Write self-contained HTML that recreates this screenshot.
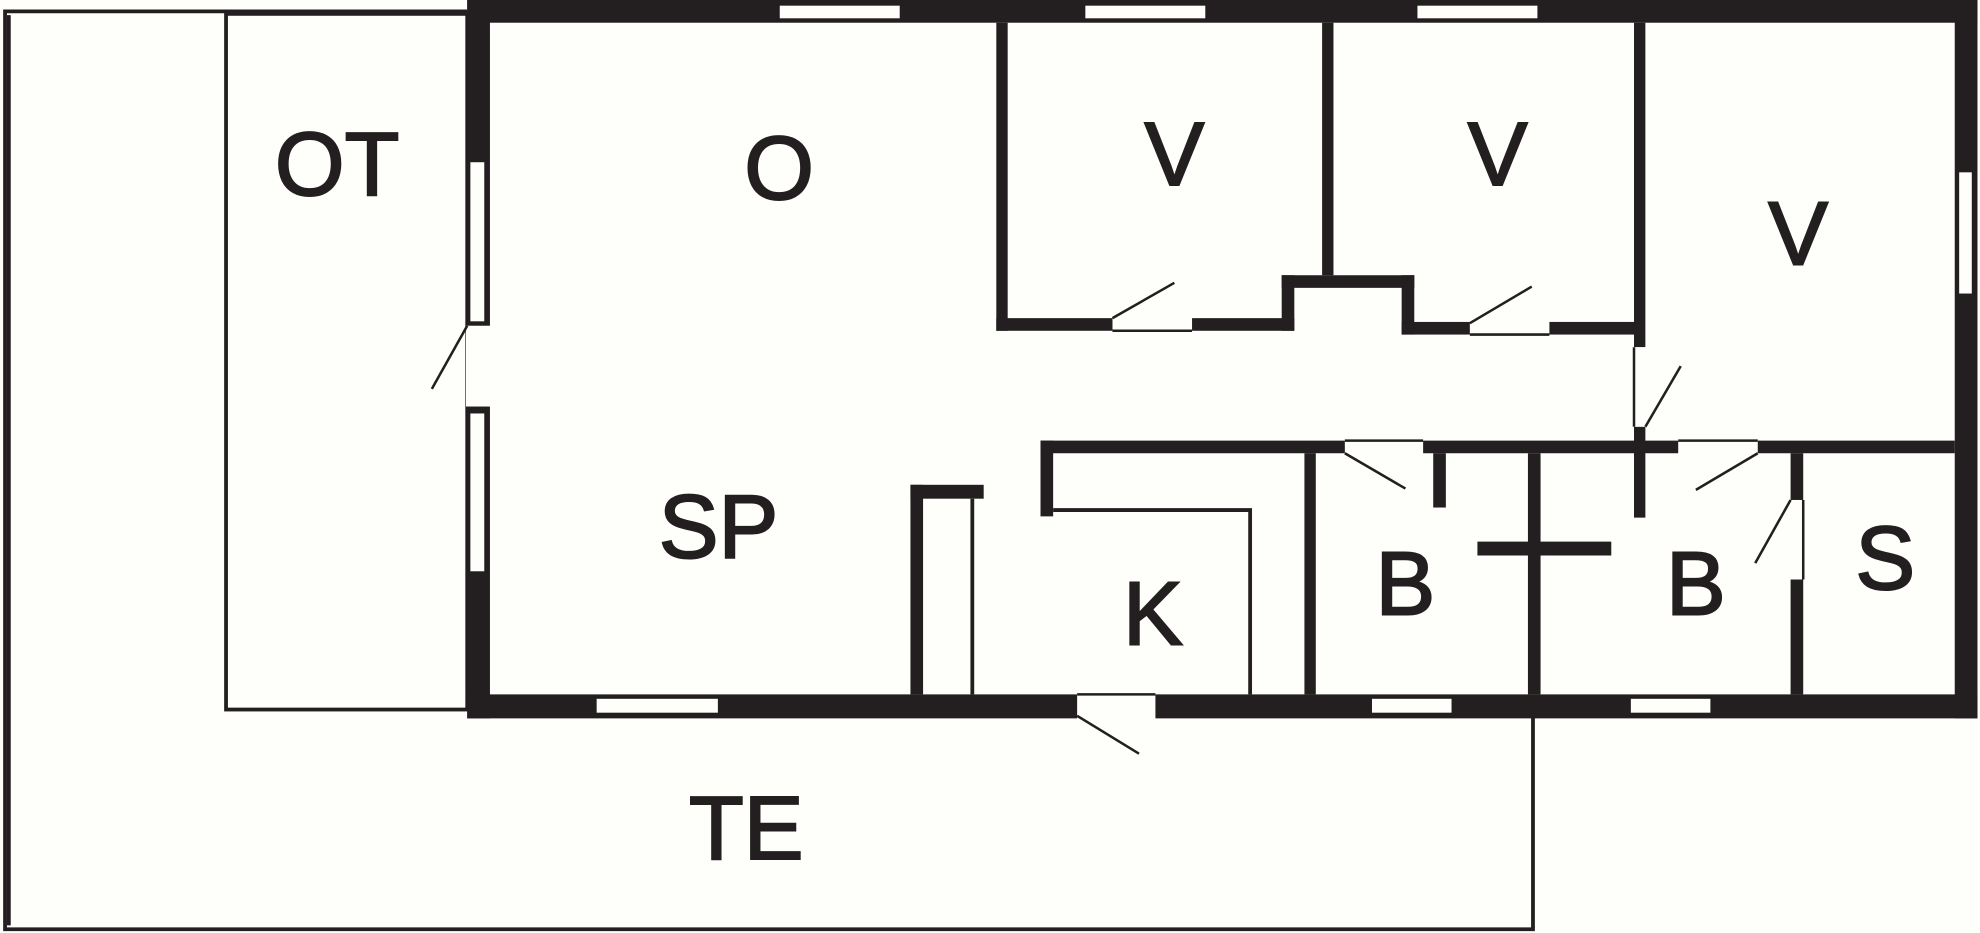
<!DOCTYPE html>
<html><head><meta charset="utf-8"><style>html,body{margin:0;padding:0;background:#fefefa}svg{display:block}</style></head>
<body>
<svg width="1980" height="933" viewBox="0 0 1568 739" preserveAspectRatio="none" xmlns="http://www.w3.org/2000/svg">
<rect width="1568" height="739" fill="#fefefa"/>
<g fill="none" stroke="#231f20" stroke-width="3">
<path d="M370 9 H4 V736 H1214 V566"/>
<path d="M7 12 V733"/>
<rect x="179" y="11" width="191" height="551"/>
<path d="M834 404 H990 V550"/>
<path d="M770 395 V550"/>
</g>
<g fill="#231f20">
<rect x="370" y="0" width="1196" height="18"/>
<rect x="370" y="0" width="18" height="569"/>
<rect x="370" y="550" width="1196" height="19"/>
<rect x="1548" y="0" width="18" height="569"/>
<rect x="789" y="18" width="9" height="244"/>
<rect x="789" y="252" width="236" height="10"/>
<rect x="1015" y="218" width="10" height="44"/>
<rect x="1015" y="218" width="105" height="10"/>
<rect x="1110" y="218" width="10" height="47"/>
<rect x="1110" y="255" width="190" height="10"/>
<rect x="1047" y="18" width="9" height="200"/>
<rect x="1294" y="18" width="9" height="257"/>
<rect x="1294" y="338" width="9" height="72"/>
<rect x="824" y="349" width="724" height="10"/>
<rect x="824" y="349" width="10" height="60"/>
<rect x="1033" y="359" width="9" height="191"/>
<rect x="1135" y="359" width="10" height="43"/>
<rect x="1210" y="359" width="10" height="191"/>
<rect x="1170" y="429" width="106" height="11"/>
<rect x="1418" y="359" width="10" height="191"/>
<rect x="721" y="384" width="10" height="166"/>
<rect x="721" y="384" width="58" height="11"/>
</g>
<g fill="#fefefa" stroke="#231f20" stroke-width="1">
<rect x="617" y="4" width="96" height="11"/>
<rect x="859" y="4" width="96" height="11"/>
<rect x="1122" y="4" width="96" height="11"/>
<rect x="372" y="128" width="12" height="127"/>
<rect x="372" y="327" width="12" height="126"/>
<rect x="1551" y="136" width="11" height="97"/>
<rect x="472" y="553" width="97" height="12"/>
<rect x="1086" y="553" width="64" height="12"/>
<rect x="1291" y="553" width="64" height="12"/>
</g>
<g fill="#fefefa">
<rect x="369" y="258" width="20" height="64"/>
<rect x="853" y="549" width="62" height="21"/>
<rect x="881" y="251" width="63" height="12"/>
<rect x="1164" y="254" width="63" height="12"/>
<rect x="1293" y="275" width="11" height="63"/>
<rect x="1065" y="348" width="62" height="12"/>
<rect x="1329" y="348" width="63" height="12"/>
<rect x="1417" y="396" width="12" height="63"/>
</g>
<g stroke="#231f20" stroke-width="2" fill="none">
<path d="M370 258 L342 308"/>
<path d="M853 567 L902 597"/>
<path d="M881 252 L930 224"/>
<path d="M1164 256 L1213 227"/>
<path d="M1303 338 L1331 290"/>
<path d="M1065 359 L1113 387"/>
<path d="M1392 359 L1343 388"/>
<path d="M1418 396 L1390 446"/>
<path d="M881 262 H944 M1164 265 H1227 M1065 349 H1127 M1329 349 H1392 M853 550 H915 M1294 275 V338 M1428 396 V459"/>
</g>
<g font-family="Liberation Sans, sans-serif" font-size="71" fill="#231f20" stroke="#231f20" stroke-width="1.6" text-anchor="middle" dominant-baseline="central">
<text x="267" y="130">OT</text>
<text x="617" y="133">O</text>
<text x="930" y="122">V</text>
<text x="1186" y="122">V</text>
<text x="1424" y="185">V</text>
<text x="569" y="417">SP</text>
<text x="913" y="486">K</text>
<text x="1113" y="462">B</text>
<text x="1343" y="462">B</text>
<text x="1493" y="442">S</text>
<text x="591" y="656">TE</text>
</g>
</svg>
</body></html>
